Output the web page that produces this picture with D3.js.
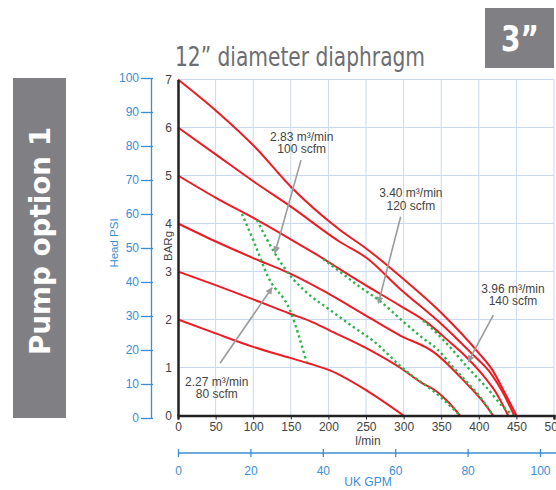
<!DOCTYPE html>
<html><head><meta charset="utf-8">
<script src="https://cdn.jsdelivr.net/npm/d3@7"></script>
<style>
body{margin:0;background:#fff}
svg{display:block;font-family:"Liberation Sans",Arial,sans-serif}
</style>
</head><body>
<svg id="c" width="556" height="490"></svg>
<script>
// ---- data ----
const flowTicks = [0,50,100,150,200,250,300,350,400,450,500];
const barTicks = [0,1,2,3,4,5,6,7];
const psiTicks = [0,10,20,30,40,50,60,70,80,90,100];
const gpmTicks = [0,20,40,60,80,100];

// red pressure curves (flow l/min, BARg), one per inlet air pressure
const curve7bar = [[0,7],[52,6.33],[102,5.6],[151,4.75],[215,3.87],[251,3.47],[297,2.88],[350,2.14],[400,1.3],[418,0.95],[432,0.55],[450,0]];
const curve6bar = [[0,6],[51,5.43],[102,4.86],[151,4.34],[215,3.62],[251,3.28],[295,2.64],[352,1.88],[390,1.3],[415,0.9],[432,0.48],[447,0]];
const curve5bar = [[0,5],[51,4.53],[102,4.1],[151,3.66],[193,3.27],[215,3.05],[251,2.7],[295,2.29],[331,1.94],[360,1.55],[384,1.21],[405,0.85],[424,0.45],[439,0]];
const curve4bar = [[0,4],[51,3.62],[100,3.28],[150,2.95],[193,2.6],[251,2.07],[295,1.67],[340,1.32],[384,0.66],[405,0.3],[419,0]];
const curve3bar = [[0,3],[51,2.71],[100,2.42],[149,2.12],[175,1.97],[202,1.77],[251,1.4],[295,1.0],[322,0.7],[344,0.5],[360,0.27],[375,0]];
const curve2bar = [[0,2],[50,1.71],[100,1.43],[149,1.2],[173,1.09],[202,0.94],[251,0.52],[300,0]];

// green dotted air-consumption lines
const air80 = [[85,4.2],[102,3.58],[120,2.88],[149,2.19],[171,1.11]];
const air100 = [[105,4.07],[128,3.4],[150,2.9],[172,2.55],[202,2.2],[230,1.88],[260,1.55],[300,0.97],[348,0.4],[375,0]];
const air120 = [[193,3.26],[215,3.0],[240,2.7],[269,2.38],[300,1.95],[325,1.62],[345,1.38],[365,1.02],[384,0.7],[405,0.32],[419,0]];
const air140 = [[326,1.98],[345,1.7],[362,1.42],[384,1.02],[410,0.59],[433,0.17],[446,0]];

// annotations: label lines, label anchor (flow,bar), arrow from, arrow to
const annLabels = [["2.27 m³/min","80 scfm"],["2.83 m³/min","100 scfm"],["3.40 m³/min","120 scfm"],["3.96 m³/min","140 scfm"]];
const annAnchor = [[51.5,0.62],[164.5,5.72],[309.6,4.55],[445.5,2.56]];
const annFrom = [[55.9,1.09],[163.6,5.32],[296.1,4.14],[419.3,2.09]];
const annTo = [[125,2.66],[129,3.39],[266.4,2.34],[386,1.12]];

const titleText = "12” diameter diaphragm";
const sizeText = "3”";
const sideText = "Pump option 1";

// ---- drawing ----
const svg = d3.select("#c");
const BLUE = "#3b8ed4", RED = "#ec1c24", GREEN = "#2fb34c", GRID = "#c9d8f0", GREY = "#808084";

const x = d3.scaleLinear().domain([0,500]).range([178,554]);
const y = d3.scaleLinear().domain([0,7]).range([415.5,79.5]);
const yPsi = d3.scaleLinear().domain([0,100]).range([418,78]);
const xGpm = d3.scaleLinear().domain([0,100]).range([178,540]);

// side boxes
svg.append("rect").attr("x",13).attr("y",78).attr("width",53).attr("height",340).attr("fill",GREY);
svg.append("text").attr("transform","translate(50,241) rotate(-90)")
  .attr("text-anchor","middle").attr("fill","#fff").attr("font-weight","bold")
  .attr("font-size",29).attr("textLength",228).attr("lengthAdjust","spacingAndGlyphs")
  .attr("font-family","'Liberation Sans Narrow','DejaVu Sans Condensed',sans-serif")
  .text(sideText);
svg.append("rect").attr("x",485).attr("y",8).attr("width",69).attr("height",60).attr("fill",GREY);
svg.append("text").attr("x",520).attr("y",51).attr("text-anchor","middle").attr("fill","#fff")
  .attr("font-weight","bold").attr("font-size",35).attr("textLength",38).attr("lengthAdjust","spacingAndGlyphs")
  .attr("font-family","'Liberation Sans Narrow','DejaVu Sans Condensed',sans-serif")
  .text(sizeText);
svg.append("text").attr("x",175).attr("y",66).attr("fill","#6d6e71").attr("font-size",26)
  .attr("textLength",250).attr("lengthAdjust","spacingAndGlyphs")
  .attr("font-family","'Liberation Sans Narrow','DejaVu Sans Condensed',sans-serif")
  .text(titleText);

// grid
svg.append("g").selectAll("line").data(flowTicks.filter(d=>d>0)).join("line")
  .attr("x1",d=>x(d)).attr("x2",d=>x(d)).attr("y1",y(7)).attr("y2",y(0))
  .attr("stroke",GRID).attr("stroke-width",1);
svg.append("g").selectAll("line").data(barTicks.filter(d=>d>0)).join("line")
  .attr("x1",x(0)).attr("x2",x(500)).attr("y1",d=>y(d)).attr("y2",d=>y(d))
  .attr("stroke",GRID).attr("stroke-width",1);

// curves
const line = d3.line().x(d=>x(d[0])).y(d=>y(d[1])).curve(d3.curveMonotoneX);
const reds = [curve7bar,curve6bar,curve5bar,curve4bar,curve3bar,curve2bar];
svg.append("g").selectAll("path").data(reds).join("path")
  .attr("d",line).attr("fill","none").attr("stroke",RED).attr("stroke-width",2);
const greens = [air80,air100,air120,air140];
svg.append("g").selectAll("path").data(greens).join("path")
  .attr("d",line).attr("fill","none").attr("stroke",GREEN).attr("stroke-width",2.4)
  .attr("stroke-dasharray","2.4,3");

// BAR axis (left, black)
const gBar = svg.append("g").attr("transform",`translate(${x(0)},0)`)
  .call(d3.axisLeft(y).tickValues(barTicks).tickSize(0).tickPadding(6).tickFormat(d3.format("d")));
gBar.select(".domain").attr("stroke","#222").attr("stroke-width",2.5);
gBar.selectAll("text").attr("font-size",12).attr("fill","#444").attr("font-family","'Liberation Sans',sans-serif");

// flow axis (bottom, black)
const gFlow = svg.append("g").attr("transform",`translate(0,${y(0)})`)
  .call(d3.axisBottom(x).tickValues(flowTicks).tickSize(4).tickPadding(3).tickFormat(d3.format("d")));
gFlow.select(".domain").attr("stroke","#222").attr("stroke-width",2.5);
gFlow.selectAll(".tick line").attr("stroke","#222");
gFlow.selectAll("text").attr("font-size",12).attr("fill","#444").attr("font-family","'Liberation Sans',sans-serif");
svg.append("text").attr("x",368).attr("y",445).attr("text-anchor","middle").attr("font-size",12).attr("fill","#444").text("l/min");

// PSI axis (blue)
const gPsi = svg.append("g").attr("transform","translate(151,0)")
  .call(d3.axisLeft(yPsi).tickValues(psiTicks).tickSizeInner(10).tickSizeOuter(0).tickPadding(2));
gPsi.select(".domain").attr("stroke",BLUE).attr("stroke-width",1.3);
gPsi.selectAll(".tick line").attr("stroke",BLUE).attr("stroke-width",1.3).attr("x2",-10).attr("x1",2);
gPsi.selectAll("text").attr("font-size",12).attr("fill",BLUE).attr("font-family","'Liberation Sans',sans-serif");
svg.append("text").attr("transform","translate(118,243) rotate(-90)").attr("text-anchor","middle")
  .attr("font-size",11.5).attr("fill",BLUE).text("Head PSI");
svg.append("text").attr("transform","translate(172,246) rotate(-90)").attr("text-anchor","middle")
  .attr("font-size",11.5).attr("fill","#444").text("BARg");

// GPM axis (blue)
const gGpm = svg.append("g").attr("transform","translate(0,453)")
  .call(d3.axisBottom(xGpm).tickValues(gpmTicks).tickSizeInner(4).tickSizeOuter(0).tickPadding(9));
gGpm.select(".domain").attr("stroke",BLUE).attr("stroke-width",1.3).attr("d","M178,0H556");
gGpm.selectAll(".tick line").attr("stroke",BLUE).attr("stroke-width",1.3).attr("y1",-4).attr("y2",4);
gGpm.selectAll("text").attr("font-size",12).attr("fill",BLUE).attr("font-family","'Liberation Sans',sans-serif");
svg.append("text").attr("x",368).attr("y",486).attr("text-anchor","middle").attr("font-size",12).attr("fill",BLUE).text("UK GPM");

// annotations
const defs = svg.append("defs");
defs.append("marker").attr("id","ah").attr("viewBox","0 0 10 10").attr("refX",9).attr("refY",5)
  .attr("markerWidth",7).attr("markerHeight",7).attr("markerUnits","userSpaceOnUse").attr("orient","auto")
  .append("path").attr("d","M0,0L10,5L0,10Z").attr("fill","#9b9b9b");
const ann = svg.append("g");
annLabels.forEach((lab,i)=>{
  ann.append("line").attr("x1",x(annFrom[i][0])).attr("y1",y(annFrom[i][1]))
    .attr("x2",x(annTo[i][0])).attr("y2",y(annTo[i][1]))
    .attr("stroke","#9b9b9b").attr("stroke-width",1.6).attr("marker-end","url(#ah)");
  const t = ann.append("text").attr("text-anchor","middle").attr("font-size",12).attr("fill","#444");
  lab.forEach((s,j)=>t.append("tspan").attr("x",x(annAnchor[i][0])).attr("y",y(annAnchor[i][1])+j*12.5).text(s));
});
</script>
</body></html>
